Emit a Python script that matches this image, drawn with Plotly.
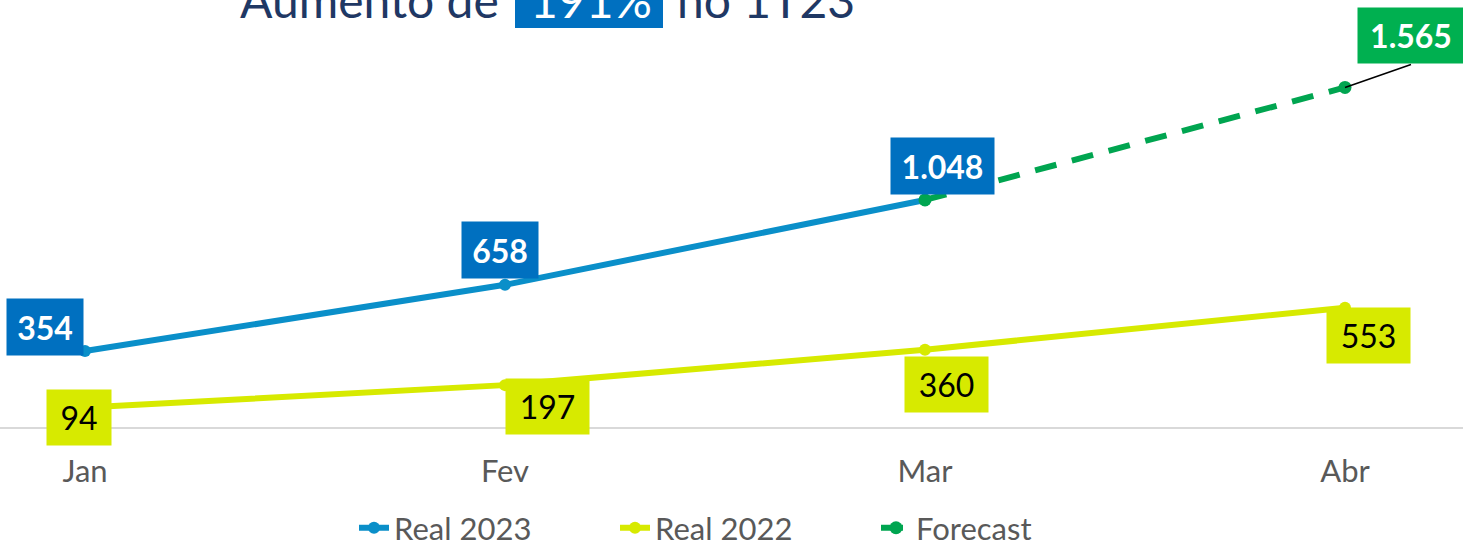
import plotly.graph_objects as go

months = ["Jan", "Fev", "Mar", "Abr"]
real_2023 = [354, 658, 1048]
real_2022 = [94, 197, 360, 553]
forecast_months = ["Mar", "Abr"]
forecast = [1048, 1565]
title_parts = ["Aumento de", "191%", "no 1T23"]

def fmt(v):
    return f"{v:,}".replace(",", ".")

xi = {m: i for i, m in enumerate(months)}

BLUE_LINE = "#0A8FC9"
BLUE_BOX = "#0070C0"
YELLOW = "#D7EA00"
GREEN_LINE = "#00A550"
GREEN_BOX = "#00B050"
NAVY = "#1F3864"

fig = go.Figure()
fig.add_trace(go.Scatter(
    x=[xi[m] for m in months[:len(real_2023)]], y=real_2023, name="Real 2023",
    mode="lines+markers", line=dict(color=BLUE_LINE, width=6),
    marker=dict(size=12, color=BLUE_LINE)))
fig.add_trace(go.Scatter(
    x=[xi[m] for m in months], y=real_2022, name="Real 2022",
    mode="lines+markers", line=dict(color=YELLOW, width=6),
    marker=dict(size=12, color=YELLOW)))
fig.add_trace(go.Scatter(
    x=[xi[m] for m in forecast_months], y=forecast, name="Forecast",
    mode="lines+markers", line=dict(color=GREEN_LINE, width=6, dash="22px,16px"),
    marker=dict(size=13, color=GREEN_LINE)))

ann = []
# Real 2023 labels
shifts_2023 = [(-40, 24), (-5, 35), (17, 34)]
for i, v in enumerate(real_2023):
    w = 74 if v < 1000 else 101
    ann.append(dict(x=i, y=v, xref="x", yref="y", text=f"<b>{fmt(v)}</b>", showarrow=False,
                    xshift=shifts_2023[i][0], yshift=shifts_2023[i][1],
                    bgcolor=BLUE_BOX, width=w, height=54,
                    font=dict(family="Lato", size=32, color="white")))
# Real 2022 labels
shifts_2022 = [(-6, -10), (42, -21), (21, -35), (23, -28)]
for i, v in enumerate(real_2022):
    w = 62 if v < 100 else 81
    ann.append(dict(x=i, y=v, xref="x", yref="y", text=fmt(v), showarrow=False,
                    xshift=shifts_2022[i][0], yshift=shifts_2022[i][1],
                    bgcolor=YELLOW, width=w, height=53,
                    font=dict(family="Lato", size=32, color="black")))
# Forecast label with leader line
ann.append(dict(x=xi[forecast_months[-1]], y=forecast[-1], xref="x", yref="y",
                text=f"<b>{fmt(forecast[-1])}</b>", showarrow=True, arrowhead=0,
                arrowwidth=1.5, arrowcolor="black", ax=66, ay=-23,
                xanchor="center", yanchor="bottom",
                bgcolor=GREEN_BOX, width=104, height=53,
                font=dict(family="Lato", size=32, color="white")))

# Title (cut off at top), in three parts
ty = (428 - 30) / 388
ann.append(dict(x=501 / 1463, y=ty, xref="paper", yref="paper", text=title_parts[0],
                showarrow=False, xanchor="right", yanchor="bottom",
                font=dict(family="Lato", size=48, color=NAVY)))
ann.append(dict(x=591 / 1463, y=ty, xref="paper", yref="paper", text=title_parts[1],
                showarrow=False, xanchor="center", yanchor="bottom",
                font=dict(family="Lato", size=48, color="white")))
ann.append(dict(x=675 / 1463, y=ty, xref="paper", yref="paper", text=title_parts[2],
                showarrow=False, xanchor="left", yanchor="bottom",
                font=dict(family="Lato", size=48, color=NAVY)))

shapes = [dict(type="rect", xref="paper", yref="paper",
               x0=515 / 1463, x1=663 / 1463, y0=(428 - 28) / 388, y1=(428 + 10) / 388,
               fillcolor=BLUE_BOX, line=dict(width=0), layer="below")]

fig.update_layout(
    width=1463, height=542,
    margin=dict(l=0, r=0, t=40, b=114, pad=0, autoexpand=False),
    paper_bgcolor="white", plot_bgcolor="white",
    showlegend=True,
    legend=dict(orientation="h", x=354 / 1463, xanchor="left", y=-0.258, yanchor="middle",
                font=dict(family="Lato", size=31, color="#595959"),
                entrywidth=216, entrywidthmode="pixels", tracegroupgap=0),
    xaxis=dict(range=[-85 / 420, 3 + 118 / 420], tickmode="array",
               tickvals=list(range(len(months))), ticktext=months,
               showgrid=False, zeroline=False, showline=False, automargin=False,
               tickfont=dict(family="Lato", size=31, color="#595959"),
               ticks="", ticklen=0, ticklabelstandoff=22),
    yaxis=dict(range=[0, 388 / 0.2176], showgrid=False, zeroline=True,
               zerolinecolor="#D9D9D9", zerolinewidth=2, showticklabels=False,
               showline=False, automargin=False),
    annotations=ann, shapes=shapes,
)

fig.write_html("out.html", config={"displayModeBar": False},
               post_script="document.body.style.margin='0';document.body.style.overflow='hidden';")
